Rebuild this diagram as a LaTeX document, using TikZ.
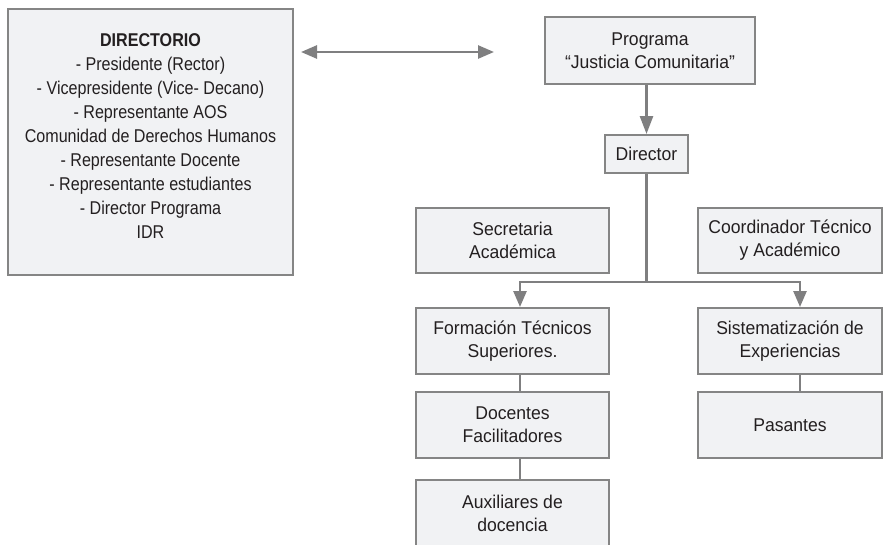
\documentclass[tikz,border=0pt]{standalone}
\usepackage{fontspec}
\setmainfont{Liberation Sans}[FakeStretch=0.95]
\newfontfamily\dirfont{Liberation Sans}[FakeStretch=0.87]
\usetikzlibrary{arrows.meta}
\definecolor{boxfill}{HTML}{F1F2F4}
\definecolor{boxline}{HTML}{858585}
\definecolor{linegray}{HTML}{7F7F80}
\definecolor{txt}{HTML}{231F20}
\tikzset{
  orgbox/.style={draw=boxline, line width=2pt, fill=boxfill, inner sep=0pt,
    align=center, text=txt, font=\fontsize{18.5}{22.8}\selectfont},
  dirbox/.style={orgbox, font=\dirfont\fontsize{18.5}{24.1}\selectfont},
  conn/.style={draw=linegray, line width=2.6pt},
  arr/.style={-{Triangle[length=16pt,width=13pt]}},
  dblarr/.style={{Triangle[length=16pt,width=13pt]}-{Triangle[length=16pt,width=13pt]}}
}
\begin{document}
\begin{tikzpicture}[x=1pt,y=-1pt]
\useasboundingbox (0,0) rectangle (884,544);
\node[dirbox, minimum width=285pt, minimum height=266pt] (dir) at (150.5,142)
  {\textbf{DIRECTORIO}\\- Presidente (Rector)\\- Vicepresidente (Vice- Decano)\\- Representante AOS\\Comunidad de Derechos Humanos\\- Representante Docente\\- Representante estudiantes\\- Director Programa\\IDR\\[-12pt]};
\node[orgbox, minimum width=210pt, minimum height=67pt] (prog) at (650,50.5)
  {Programa\\“Justicia Comunitaria”};
\node[orgbox, minimum width=83pt, minimum height=38pt] (dtr) at (646.5,154) {Director};
\node[orgbox, minimum width=193pt, minimum height=65pt] (sec) at (512.5,240.5) {Secretaria\\Académica};
\node[orgbox, minimum width=184pt, minimum height=65pt] (coord) at (790,240.5) {Coordinador Técnico\\y Académico};
\node[orgbox, minimum width=193pt, minimum height=66pt] (form) at (512.5,341) {Formación Técnicos\\Superiores.};
\node[orgbox, minimum width=184pt, minimum height=66pt] (sist) at (790,341) {Sistematización de\\Experiencias};
\node[orgbox, minimum width=193pt, minimum height=66pt] (doc) at (512.5,425) {Docentes\\Facilitadores};
\node[orgbox, minimum width=184pt, minimum height=66pt] (pas) at (790,425) {Pasantes};
\node[orgbox, minimum width=193pt, minimum height=66pt] (aux) at (512.5,513) {Auxiliares de\\docencia};
% connectors
\draw[conn, dblarr] ([xshift=7pt]dir.east |- 0,52) -- ([xshift=-50pt]prog.west |- 0,52);
\draw[conn, -{Triangle[length=18pt,width=13pt]}] (prog.south -| dtr.north) -- (dtr.north);
\coordinate (hub) at (dtr.south |- 0,282);
\draw[conn] (dtr.south) -- (hub);
\draw[conn, arr] (hub) -| ([xshift=7.5pt]form.north);
\draw[conn, arr] (hub) -| ([xshift=10pt]sist.north);
\draw[conn] ([xshift=7.5pt]form.south) -- ([xshift=7.5pt]doc.north);
\draw[conn] ([xshift=7.5pt]doc.south) -- ([xshift=7.5pt]aux.north);
\draw[conn] ([xshift=10pt]sist.south) -- ([xshift=10pt]pas.north);
\end{tikzpicture}
\end{document}
